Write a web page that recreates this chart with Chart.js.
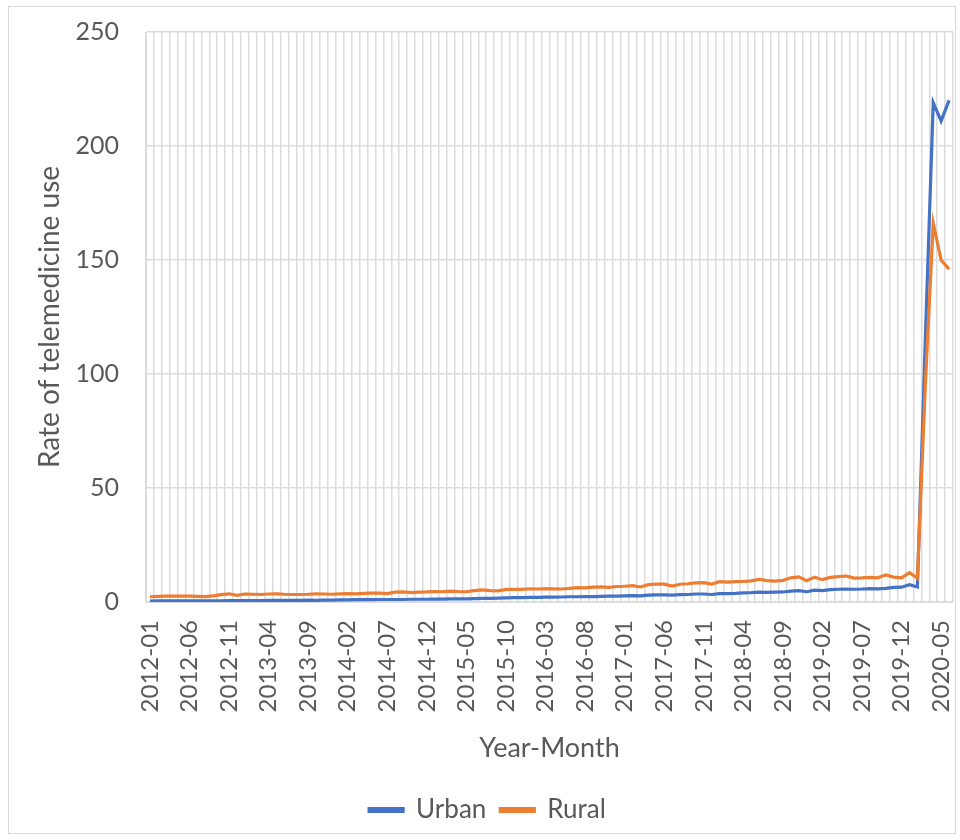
<!DOCTYPE html>
<html>
<head>
<meta charset="utf-8">
<script src="https://cdn.jsdelivr.net/npm/chart.js@4"></script>
<style>
  body { margin: 0; background: #fff; }
  #wrap { position: relative; width: 960px; height: 840px; }
  #frame { position: absolute; left: 8px; top: 6px; width: 948px; height: 828px; border: 1.5px solid #d9d9d9; box-sizing: border-box; }
</style>
</head>
<body>
<div id="wrap">
  <div id="frame"></div>
  <canvas id="myChart" width="960" height="840"></canvas>
</div>
<script>
// months 2012-01 .. 2020-06
var months = [];
for (var y = 2012; y <= 2020; y++) {
  for (var m = 1; m <= 12; m++) {
    if (y == 2020 && m > 6) break;
    months.push(y + '-' + (m < 10 ? '0' + m : m));
  }
}

var urban = [
  0.4,0.5,0.5,0.5,0.5,0.5,0.5,0.5,0.5,0.5,0.6,0.6,
  0.6,0.6,0.6,0.7,0.7,0.7,0.7,0.7,0.8,0.7,0.8,0.8,
  0.9,0.9,1.0,1.0,1.0,1.1,1.1,1.1,1.1,1.2,1.2,1.2,
  1.3,1.3,1.4,1.4,1.4,1.5,1.6,1.6,1.7,1.8,1.9,1.9,
  2.0,2.0,2.1,2.1,2.2,2.3,2.3,2.4,2.4,2.5,2.6,2.6,
  2.7,2.8,2.7,3.0,3.1,3.1,3.0,3.2,3.3,3.5,3.5,3.3,
  3.7,3.7,3.8,4.0,4.1,4.3,4.2,4.3,4.4,4.8,5.0,4.5,
  5.2,5.0,5.4,5.6,5.7,5.6,5.7,5.9,5.8,6.0,6.4,6.5,
  7.6,6.6,115,219,211,220
];

var rural = [
  2.3,2.5,2.6,2.6,2.6,2.6,2.5,2.4,2.7,3.2,3.6,2.9,
  3.5,3.4,3.3,3.5,3.6,3.4,3.3,3.3,3.4,3.6,3.5,3.4,
  3.6,3.7,3.6,3.8,3.9,3.9,3.7,4.3,4.4,4.1,4.3,4.4,
  4.6,4.5,4.8,4.6,4.5,5.0,5.3,5.0,4.9,5.5,5.6,5.5,
  5.8,5.7,5.9,5.8,5.7,6.0,6.3,6.2,6.5,6.6,6.4,6.8,
  6.9,7.2,6.6,7.6,7.9,7.8,7.0,7.8,8.0,8.4,8.5,7.9,
  8.9,8.7,8.9,9.0,9.3,9.9,9.4,9.2,9.5,10.6,11.0,9.3,
  10.9,9.8,10.8,11.1,11.4,10.5,10.6,10.8,10.6,11.9,10.9,10.6,
  12.9,10.5,95,166,150,146
];

var grey = '#595959';
var fontFam = 'Lato, "Open Sans", sans-serif';

var ctx = document.getElementById('myChart');
var myLineChart = new Chart(ctx, {
  type: 'line',
  data: {
    labels: months,
    datasets: [{
      label: 'Urban',
      data: urban,
      borderColor: '#4472C4',
      backgroundColor: '#4472C4',
      borderWidth: 3.2,
      pointRadius: 0,
      order: 1
    }, {
      label: 'Rural',
      data: rural,
      borderColor: '#ED7D31',
      backgroundColor: '#ED7D31',
      borderWidth: 3.2,
      pointRadius: 0,
      order: 0
    }]
  },
  options: {
    responsive: false,
    animation: false,
    layout: { padding: { top: 32, right: 7, left: 22, bottom: 7 } },
    plugins: {
      tooltip: { enabled: false },
      legend: {
        position: 'bottom',
        labels: {
          color: grey,
          font: { family: fontFam, size: 26 },
          boxWidth: 34,
          boxHeight: 3,
          padding: 14,
          sort: function(a, b) { return a.datasetIndex - b.datasetIndex; }
        }
      }
    },
    scales: {
      x: {
        offset: true,
        grid: { offset: true, color: '#dcdcdc', lineWidth: 1.5, drawTicks: false },
        border: { color: '#dcdcdc' },
        ticks: {
          autoSkip: false,
          minRotation: 90,
          maxRotation: 90,
          padding: 18,
          color: grey,
          font: { family: fontFam, size: 24 },
          callback: function(val, i) { return i % 5 === 0 ? months[i] : ''; }
        },
        title: {
          display: true,
          text: 'Year-Month',
          color: grey,
          font: { family: fontFam, size: 27 },
          padding: { top: 19, bottom: 19 }
        },
        afterFit: function(scale) {
          scale.height = 181;
          scale.paddingLeft = 0;
          scale.paddingRight = 0;
        }
      },
      y: {
        min: 0,
        max: 250,
        grid: { color: '#dcdcdc', lineWidth: 1.5, drawTicks: false },
        border: { color: '#dcdcdc' },
        ticks: {
          stepSize: 50,
          padding: 27,
          color: grey,
          font: { family: fontFam, size: 25 }
        },
        title: {
          display: true,
          text: 'Rate of telemedicine use',
          color: grey,
          font: { family: fontFam, size: 28 },
          padding: { top: 11, bottom: 0 }
        },
        afterFit: function(scale) {
          scale.width = 124;
          scale.paddingTop = 0;
          scale.paddingBottom = 0;
        }
      }
    }
  }
});
</script>
</body>
</html>
